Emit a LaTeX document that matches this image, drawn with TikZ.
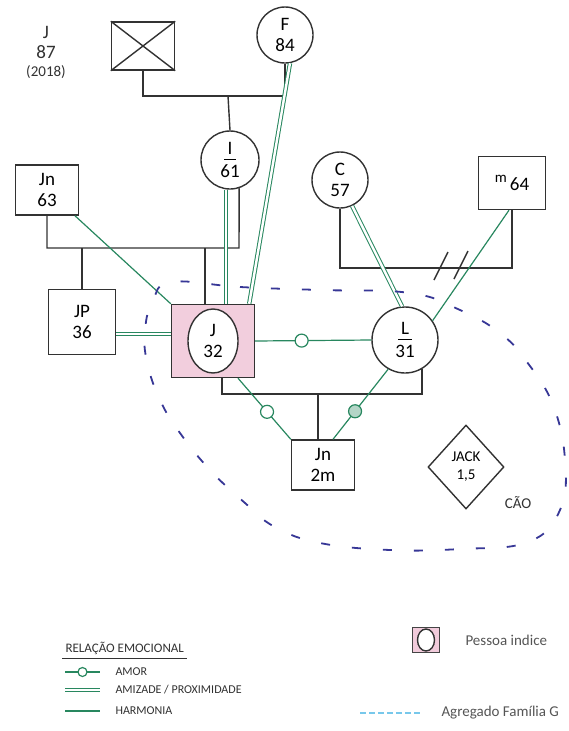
\documentclass[tikz,border=0pt]{standalone}
\usepackage{fontspec}
\setmainfont{Carlito}
\usetikzlibrary{positioning, shapes.geometric, calc}
\definecolor{ink}{RGB}{50,50,50}
\definecolor{bondgreen}{RGB}{40,135,95}
\definecolor{groupblue}{RGB}{55,55,150}
\definecolor{indexpink}{RGB}{238,190,210}
\definecolor{keyblue}{RGB}{120,200,235}
\definecolor{printgray}{RGB}{85,85,85}
\newcommand{\hand}{\fontsize{19}{21}\selectfont}
\newcommand{\handsmall}{\fontsize{15}{18}\selectfont}
\newcommand{\keyfont}{\fontsize{12}{12}\selectfont}
\newcommand{\printfont}{\fontsize{15}{16}\selectfont}

\begin{document}
\begin{tikzpicture}[x=1pt, y=-1pt,
  male/.style={rectangle, draw=ink, line width=1.4pt, minimum width=63pt, minimum height=50pt,
               align=center, font=\hand, inner sep=2pt},
  female/.style={circle, draw=ink, line width=1.4pt, minimum size=58pt, align=center,
                 font=\hand, inner sep=0pt},
  pet/.style={diamond, aspect=1, draw=ink, line width=1.4pt, minimum width=76pt,
              minimum height=84pt, align=center, font=\handsmall, inner sep=0pt},
  tie/.style={draw=ink, line width=1.4pt},
  harmonia/.style={draw=bondgreen, line width=1.2pt},
  amizade/.style={draw=bondgreen, line width=1pt, double=white, double distance=2.4pt},
  amorring/.style={circle, draw=bondgreen, line width=1.2pt, fill=white, minimum size=13pt, inner sep=0pt},
  grouping/.style={draw=groupblue, line width=1.8pt, dash pattern=on 9pt off 22pt},
  keytext/.style={font=\keyfont, text=ink, anchor=west},
  printtext/.style={font=\printfont, text=printgray, anchor=west}
]
\useasboundingbox (0,0) rectangle (568,731);
\clip (0,0) rectangle (568,731);

% grandparents
\node[male, minimum height=48pt] (jdec) at (143,46) {};
\draw[tie] (jdec.north west) -- (jdec.south east);
\draw[tie] (jdec.north east) -- (jdec.south west);
\node[align=center, font=\handsmall, text=ink] (jdata) at (46,52) {{\hand J}\\[2pt]{\hand 87}\\(2018)};
\node[female, minimum size=56pt] (f) at (285,35) {F\\84};
\coordinate (mjf) at (228,96);
\draw[tie] (jdec.south) |- (mjf) -| (f.south);
\node[female] (i) at (230,160) {I\\[-16pt]\rule{12pt}{0.8pt}\\[-3pt]61};
\draw[tie] (mjf) -- (i.north);

% parents
\node[male] (jn) at (47,190) {Jn\\63};
\coordinate (mjn) at (239,248);
\draw[tie] (jn.south) |- (mjn) -- (i.-72);
\node[female, minimum size=56pt] (c) at (340,180) {C\\57};
\node[male, minimum width=67pt, minimum height=53pt] (m) at (512,183) {\raisebox{8pt}{\handsmall m}\,64};
\coordinate (mcm) at (512,268);
\draw[tie] (c.south) |- (mcm) -- (m.south);
\coordinate (split) at (452,266);
\draw[tie] ($(split)+(-18,14)$) -- ($(split)+(-4,-14)$);
\draw[tie] ($(split)+(2,13)$) -- ($(split)+(16,-15)$);

% siblings, index person and partner
\node[male, minimum width=67pt, minimum height=65pt] (jp) at (82,322) {JP\\36};
\draw[tie] (jp.north |- mjn) -- (jp.north);
\node[rectangle, draw=ink, line width=1.4pt, fill=indexpink!75, minimum width=83pt,
      minimum height=73pt] (jdx) at (213,341) {};
\node[ellipse, draw=ink, line width=1.4pt, fill=white, minimum width=50pt, minimum height=64pt,
      align=center, font=\hand, inner sep=0pt] (jdxin) at (jdx) {J\\32};
\draw[tie] ([xshift=-8pt]jdx.north |- mjn) -- ([xshift=-8pt]jdx.north);
\node[female, minimum size=66pt] (l) at (405,340) {L\\[-16pt]\rule{14pt}{0.8pt}\\[-3pt]31};

% children and pet
\coordinate (mjl) at (318,394);
\draw[tie] ([xshift=9pt]jdx.south) |- (mjl) -| (l.-60);
\node[male] (jn2) at (323,465) {Jn\\2m};
\draw[tie] ([xshift=-5pt]jn2.north |- mjl) -- ([xshift=-5pt]jn2.north);
\node[pet] (jack) at (466,467) {JACK\\1,5};
\node[font=\handsmall, text=ink] (cao) at (518,503) {CÃO};

% emotional bonds
\draw[harmonia] (jn) -- (jdx.north west);
\draw[amizade] ([xshift=-4pt]i.south) -- ([xshift=-4pt]i.south |- jdx.north);
\draw[amizade] (f.-80) -- ([xshift=-6pt]jdx.north east);
\draw[amizade] ([yshift=-12pt]jp.east) coordinate (jpe) -- (jpe -| jdx.west);
\draw[harmonia] (jdx.east) -- node[amorring, pos=0.4] (ring1) {} (l.west);
\draw[amizade] (c.-65) -- (l.95);
\draw[harmonia] ([xshift=-3pt]m.south) -- (l.35);
\draw[harmonia] ([xshift=25pt]jdx.south) -- node[amorring, pos=0.55] (ring2) {} (jn2.north west);
\draw[harmonia] (l.-120) -- node[amorring, fill=bondgreen!35, pos=0.6] (ring3) {} ([xshift=10pt]jn2.north);

% family group
\draw[grouping] plot[smooth cycle, tension=0.7] coordinates {
  (172,282) (240,287) (320,290) (410,293) (460,310) (500,333) (527,362) (553,405)
  (565,460) (560,510) (528,542) (460,549) (390,550) (320,543) (275,527) (245,503)
  (210,470) (180,433) (160,400) (147,362) (145,330) (153,300)};

% legend
\node[keytext, font=\fontsize{13}{13}\selectfont] (keytitle) at (62,648) {RELAÇÃO EMOCIONAL};
\draw[ink, line width=0.8pt] ([yshift=-1pt]keytitle.south west) -- ([yshift=-1pt]keytitle.south east);
\coordinate (amorA) at (65,672);
\coordinate (amorB) at (100,672);
\draw[harmonia] (amorA) -- node[amorring, minimum size=9pt] (keyring) {} (amorB);
\node[keytext, right=12pt of amorB] (keyamor) {AMOR};
\coordinate (amizA) at (65,690);
\coordinate (amizB) at (100,690);
\draw[amizade] (amizA) -- (amizB);
\node[keytext, right=12pt of amizB] (keyamiz) {AMIZADE / PROXIMIDADE};
\coordinate (harmA) at (65,711);
\coordinate (harmB) at (100,711);
\draw[harmonia] (harmA) -- (harmB);
\node[keytext, right=12pt of harmB] (keyharm) {HARMONIA};

\node[rectangle, draw=printgray!80!black, line width=1pt, fill=indexpink!80, minimum width=27pt,
      minimum height=25pt] (keyidx) at (426,640) {};
\node[ellipse, draw=ink, line width=1.4pt, fill=white, minimum width=17pt, minimum height=22pt]
      (keyidxin) at (keyidx) {};
\node[printtext, right=22pt of keyidx] (keyidxtxt) {Pessoa indice};
\coordinate (grpA) at (360,713);
\coordinate (grpB) at (420,713);
\draw[keyblue, line width=1.4pt, dash pattern=on 6pt off 3pt] (grpA) -- (grpB);
\node[printtext] (keygrp) at (438,713) {Agregado Família G};
\end{tikzpicture}
\end{document}
